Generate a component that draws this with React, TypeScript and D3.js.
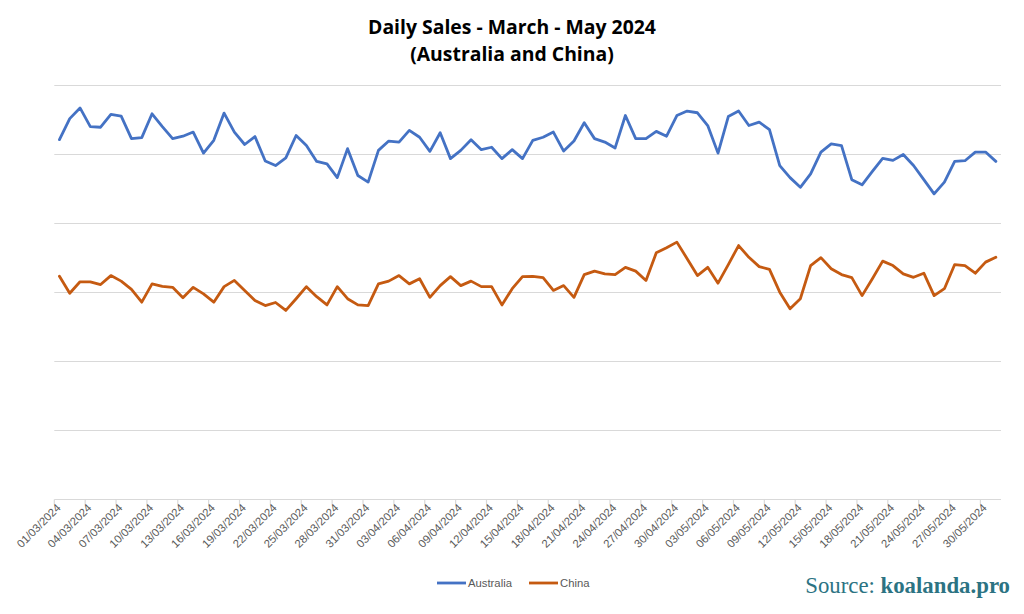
import React from "react";
import * as d3 from "d3";

const startDate = new Date(2024, 2, 1);
const dayCount = 92;
const dates: Date[] = d3.timeDay.range(startDate, d3.timeDay.offset(startDate, dayCount));

const australia: number[] = [
  1043, 1104, 1135, 1081, 1079, 1116, 1111, 1046, 1049, 1118,
  1081, 1046, 1053, 1065, 1004, 1041, 1120, 1065, 1029, 1052,
  981, 968, 990, 1055, 1026, 980, 973, 933, 1017, 939,
  920, 1012, 1039, 1036, 1070, 1050, 1009, 1063, 988, 1012,
  1043, 1014, 1021, 988, 1014, 988, 1041, 1050, 1065, 1010,
  1039, 1092, 1046, 1036, 1019, 1113, 1046, 1046, 1067, 1053,
  1113, 1126, 1121, 1084, 1004, 1110, 1126, 1084, 1094, 1072,
  968, 933, 905, 944, 1007, 1031, 1026, 927, 912, 951,
  989, 983, 1000, 968, 927, 886, 920, 980, 982, 1007,
  1007, 980,
];

const china: number[] = [
  647, 598, 631, 631, 623, 649, 633, 609, 572, 625,
  618, 615, 585, 615, 596, 572, 617, 635, 606, 577,
  562, 571, 548, 582, 617, 588, 564, 617, 582, 564,
  562, 625, 633, 649, 625, 640, 586, 620, 646, 620,
  633, 617, 617, 564, 611, 646, 647, 643, 606, 620,
  586, 652, 662, 654, 652, 673, 662, 635, 715, 730,
  746, 698, 649, 673, 627, 681, 736, 702, 675, 667,
  601, 553, 582, 678, 701, 669, 652, 643, 591, 640,
  691, 678, 654, 644, 656, 591, 611, 681, 678, 656,
  688, 702,
];

const seriesNames: string[] = ["Australia", "China"];
const seriesColors: string[] = ["#4472C4", "#C55A11"];
const yTicks: number[] = [0, 200, 400, 600, 800, 1000, 1200];
const titleLines: string[] = ["Daily Sales - March - May 2024", "(Australia and China)"];

const W = 1024;
const H = 614;
const plotLeft = 54.3;
const plotRight = 1001;
const plotTop = 85.5;
const plotBottom = 499.5;

const fmt = d3.timeFormat("%d/%m/%Y");

export default function App() {
  const x = d3.scaleBand<Date>().domain(dates).range([plotLeft, plotRight]).paddingInner(0).paddingOuter(0);
  const y = d3.scaleLinear().domain([0, 1200]).range([plotBottom, plotTop]);
  const cx = (d: Date) => (x(d) as number) + x.bandwidth() / 2;

  const line = d3
    .line<number>()
    .x((_, i) => cx(dates[i]))
    .y((v) => y(v));

  const seriesData = [australia, china];
  const tickDates = dates.filter((_, i) => i % 3 === 0);

  return (
    <svg
      width={W}
      height={H}
      style={{ position: "absolute", left: 0, top: 0, background: "#fff" }}
    >
      <rect x={0} y={0} width={W} height={H} fill="#fff" />
      {titleLines.map((t, i) => (
        <text
          key={t}
          x={512}
          y={34 + i * 27}
          textAnchor="middle"
          fontFamily="'Open Sans', sans-serif"
          fontWeight={700}
          fontSize={19.4}
          fill="#000"
        >
          {t}
        </text>
      ))}
      {yTicks.slice(1).map((t) => (
        <line key={t} x1={plotLeft} x2={plotRight} y1={y(t)} y2={y(t)} stroke="#d9d9d9" strokeWidth={1.2} />
      ))}
      <line x1={plotLeft} x2={plotRight} y1={y(0)} y2={y(0)} stroke="#d9d9d9" strokeWidth={1.2} />
      {tickDates.map((d) => (
        <line key={"t" + d.getTime()} x1={x(d)} x2={x(d)} y1={y(0)} y2={y(0) + 5} stroke="#d9d9d9" strokeWidth={1.2} />
      ))}
      {tickDates.map((d) => {
        const px = cx(d) + 2;
        const py = plotBottom + 9;
        return (
          <text
            key={"l" + d.getTime()}
            x={px}
            y={py}
            textAnchor="end"
            transform={`rotate(-45 ${px} ${py})`}
            fontFamily="'Liberation Sans', Arial, sans-serif"
            fontSize={11.3}
            fill="#595959"
          >
            {fmt(d)}
          </text>
        );
      })}
      {seriesData.map((s, k) => (
        <path
          key={seriesNames[k]}
          d={line(s) || ""}
          fill="none"
          stroke={seriesColors[k]}
          strokeWidth={2.8}
          strokeLinejoin="round"
          strokeLinecap="round"
        />
      ))}
      {seriesNames.map((n, k) => {
        const lx = 437 + k * 92;
        return (
          <g key={"lg" + n}>
            <line x1={lx} x2={lx + 29} y1={583} y2={583} stroke={seriesColors[k]} strokeWidth={2.8} />
            <text
              x={lx + 31}
              y={587}
              fontFamily="'Liberation Sans', Arial, sans-serif"
              fontSize={11.3}
              fill="#595959"
            >
              {n}
            </text>
          </g>
        );
      })}
      <text x={1010} y={593} textAnchor="end" fontFamily="'Liberation Serif', 'DejaVu Serif', serif" fontSize={22.8} fill="#2c7383">
        Source: <tspan fontWeight={700}>koalanda.pro</tspan>
      </text>
    </svg>
  );
}
